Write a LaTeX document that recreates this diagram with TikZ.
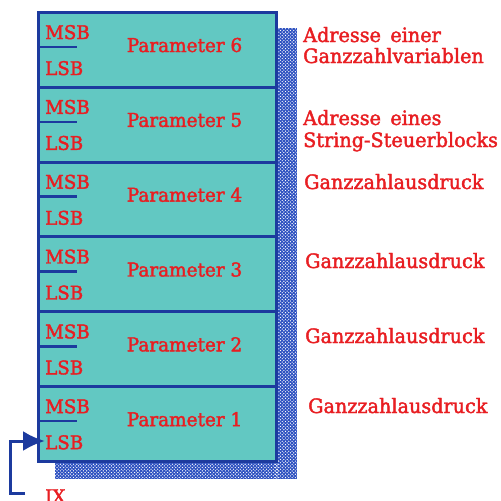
\documentclass[tikz,border=0pt]{standalone}
\usepackage{fontspec}
\newfontfamily\slab[FakeStretch=0.97,FakeBold=2]{DejaVu Serif}
\usetikzlibrary{arrows.meta}
\definecolor{cell}{RGB}{98,200,194}
\definecolor{edge}{RGB}{28,58,158}
\definecolor{shadowblue}{RGB}{44,80,192}
\definecolor{txt}{RGB}{232,30,34}
\tikzset{
  rowbox/.style={draw=edge, fill=cell, line width=3pt, minimum width=238pt,
    minimum height=74.83pt, anchor=north west, inner sep=0pt},
  bytetxt/.style={text=txt, font=\slab\fontsize{18.8}{18.8}\selectfont, inner sep=0pt, anchor=base west},
  partxt/.style={text=txt, font=\slab\fontsize{19}{19}\selectfont, inner sep=0pt, anchor=base},
  labtxt/.style={text=txt, font=\slab\fontsize{19.8}{19.8}\selectfont, inner sep=0pt, anchor=base west},
  divider/.style={draw=edge, line width=2.5pt},
  ixline/.style={draw=edge, line width=3pt},
}
\begin{document}
\begin{tikzpicture}[x=1pt,y=-1pt]
\useasboundingbox (0,0) rectangle (501,501);
% drop shadow: blue ground with a diagonal lattice of white dots
\fill[shadowblue] (275,28) rectangle (297,479);
\fill[shadowblue] (55,460) rectangle (297,479);
\begin{scope}
  \clip (275,28) rectangle (297,479) (55,460) rectangle (297,479);
  \fill[white] \foreach \j in {0,...,274}{
      \foreach \i in {0,...,7}{
        ({275.6+3.3*\i+1.65*mod(\j,2)},{28.8+1.65*\j}) circle (0.68)}};
  \fill[white] \foreach \j in {0,...,12}{
      \foreach \i in {0,...,67}{
        ({55.4+3.3*\i+1.65*mod(\j,2)},{459.3+1.65*\j}) circle (0.68)}};
\end{scope}
% parameter rows, top to bottom
\foreach \k/\n in {0/6,1/5,2/4,3/3,4/2,5/1}{
  \pgfmathsetmacro{\t}{11+74.83*\k}
  \node[rowbox] (p\n) at (37,\t) {};
  \draw[divider] (37,\t+36) -- (77,\t+36);
  \node[bytetxt] (m\n) at (45,\t+28) {MSB};
  \node[bytetxt] (l\n) at (45,\t+64) {LSB};
  \node[partxt] (t\n) at (184.5,\t+41) {Parameter \n};
}
% descriptions
\node[labtxt] (d6a) at (303,42) {Adresse\, einer};
\node[labtxt] (d6b) at (303,63) {Ganzzahlvariablen};
\node[labtxt] (d5a) at (303,125) {Adresse\, eines};
\node[labtxt] (d5b) at (303,147) {String-Steuerblocks};
\node[labtxt] (d4) at (304,189) {Ganzzahlausdruck};
\node[labtxt] (d3) at (305,268) {Ganzzahlausdruck};
\node[labtxt] (d2) at (305,343) {Ganzzahlausdruck};
\node[labtxt] (d1) at (308,413) {Ganzzahlausdruck};
% index register pointer
\node[bytetxt] (ix) at (45,503) {IX};
\coordinate (ixend) at (25,493);
\draw[ixline, -{Latex[length=22pt,width=20pt]}] (ixend) -- (10,493) -- (10,441) -- (l1.west |- 0,441);
\end{tikzpicture}
\end{document}
